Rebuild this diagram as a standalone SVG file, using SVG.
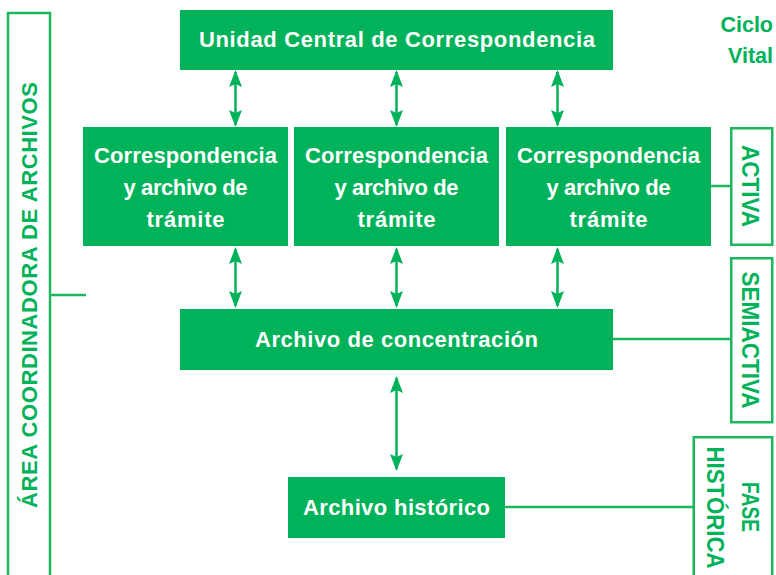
<svg xmlns="http://www.w3.org/2000/svg" width="776" height="575" viewBox="0 0 776 575">
<defs>
<style>
.box{fill:#00B259;}
.frame{fill:none;stroke:#1DB55E;stroke-width:2.5;}
.ln{stroke:#1DB55E;stroke-width:2.5;fill:none;}
.arr{stroke:#00B259;stroke-width:2.5;fill:none;marker-start:url(#ah);marker-end:url(#ah);}
.wt{fill:#FFFFFF;font-family:"Liberation Sans",Arial,sans-serif;font-weight:bold;font-size:22px;text-anchor:middle;}
.gt{fill:#00B259;font-family:"Liberation Sans",Arial,sans-serif;font-weight:bold;}
</style>
<marker id="ah" viewBox="0 0 17 13" refX="15" refY="6.5" markerWidth="17" markerHeight="13" markerUnits="userSpaceOnUse" orient="auto-start-reverse">
<path d="M0,0 L17,6.5 L0,13 L3,6.5 Z" fill="#00B259"/>
</marker>
</defs>

<g id="connectors">
<line class="arr" x1="235.5" y1="72" x2="235.5" y2="125"/>
<line class="arr" x1="396.5" y1="72" x2="396.5" y2="125"/>
<line class="arr" x1="557.5" y1="72" x2="557.5" y2="125"/>
<line class="arr" x1="235.5" y1="249" x2="235.5" y2="306"/>
<line class="arr" x1="396.5" y1="249" x2="396.5" y2="306"/>
<line class="arr" x1="557.5" y1="249" x2="557.5" y2="306"/>
<line class="arr" x1="396.5" y1="378" x2="396.5" y2="469"/>
<line class="ln" x1="51" y1="295" x2="86" y2="295"/>
<line class="ln" x1="711" y1="186" x2="731" y2="186"/>
<line class="ln" x1="613" y1="339" x2="731" y2="339"/>
<line class="ln" x1="505" y1="507" x2="694" y2="507"/>
</g>

<g id="area">
<rect class="frame" x="8" y="13" width="42" height="600"/>
<text class="gt" font-size="22" transform="translate(37,508) rotate(-90)" textLength="426" lengthAdjust="spacing">ÁREA COORDINADORA DE ARCHIVOS</text>
</g>

<g id="ciclo">
<text class="gt" font-size="21.5" text-anchor="end" x="773" y="32">Ciclo</text>
<text class="gt" font-size="21.5" text-anchor="end" x="773" y="63">Vital</text>
</g>

<g id="ucc">
<rect class="box" x="180" y="10" width="433" height="60"/>
<text class="wt" x="397" y="47" textLength="396" lengthAdjust="spacing">Unidad Central de Correspondencia</text>
</g>

<g id="cat1">
<rect class="box" x="83" y="127" width="205" height="119"/>
<text class="wt" x="185.5" y="163" textLength="183" lengthAdjust="spacing">Correspondencia</text>
<text class="wt" x="185.5" y="195" textLength="124" lengthAdjust="spacing">y archivo de</text>
<text class="wt" x="185.5" y="227" textLength="78" lengthAdjust="spacing">trámite</text>
</g>
<g id="cat2">
<rect class="box" x="294" y="127" width="205" height="119"/>
<text class="wt" x="396.5" y="163" textLength="183" lengthAdjust="spacing">Correspondencia</text>
<text class="wt" x="396.5" y="195" textLength="124" lengthAdjust="spacing">y archivo de</text>
<text class="wt" x="396.5" y="227" textLength="78" lengthAdjust="spacing">trámite</text>
</g>
<g id="cat3">
<rect class="box" x="506" y="127" width="205" height="119"/>
<text class="wt" x="608.5" y="163" textLength="183" lengthAdjust="spacing">Correspondencia</text>
<text class="wt" x="608.5" y="195" textLength="124" lengthAdjust="spacing">y archivo de</text>
<text class="wt" x="608.5" y="227" textLength="78" lengthAdjust="spacing">trámite</text>
</g>

<g id="concentracion">
<rect class="box" x="180" y="309" width="433" height="61"/>
<text class="wt" x="396.5" y="347" textLength="283" lengthAdjust="spacing">Archivo de concentración</text>
</g>

<g id="historico">
<rect class="box" x="288" y="477" width="217" height="61"/>
<text class="wt" x="396.5" y="515" textLength="187" lengthAdjust="spacing">Archivo histórico</text>
</g>

<g id="activa">
<rect class="frame" x="731.25" y="128.25" width="41" height="116.5"/>
<text class="gt" font-size="23" text-anchor="middle" transform="translate(742,186) rotate(90)" textLength="82" lengthAdjust="spacingAndGlyphs">ACTIVA</text>
</g>

<g id="semiactiva">
<rect class="frame" x="731.25" y="258.25" width="41" height="164"/>
<text class="gt" font-size="23" text-anchor="middle" transform="translate(742,340) rotate(90)" textLength="137" lengthAdjust="spacingAndGlyphs">SEMIACTIVA</text>
</g>

<g id="fase">
<rect class="frame" x="693.75" y="437.25" width="78.5" height="200"/>
<text class="gt" font-size="23" text-anchor="middle" transform="translate(742,507) rotate(90)" textLength="50" lengthAdjust="spacingAndGlyphs">FASE</text>
<text class="gt" font-size="23" text-anchor="middle" transform="translate(707,507.5) rotate(90)" textLength="122" lengthAdjust="spacingAndGlyphs">HISTÓRICA</text>
</g>
</svg>
